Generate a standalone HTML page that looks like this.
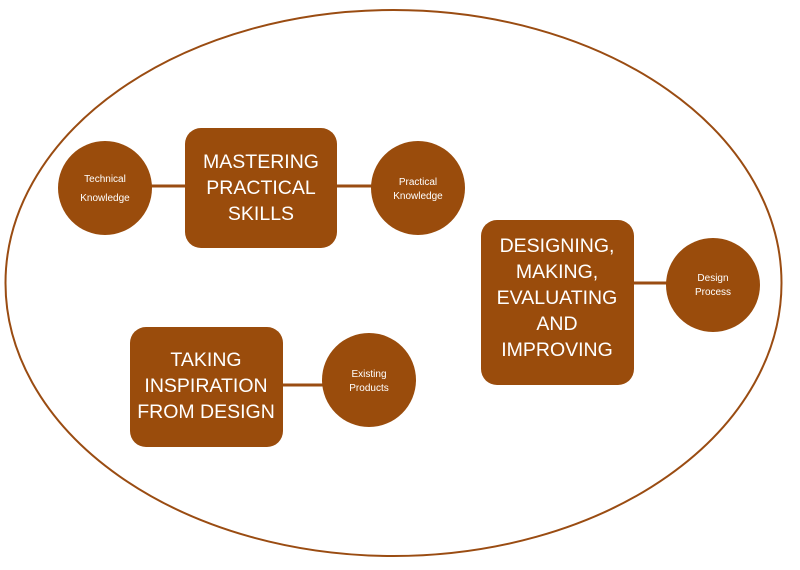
<!DOCTYPE html>
<html><head><meta charset="utf-8"><style>
html,body{margin:0;padding:0;background:#fff;}
svg{display:block;}
text{font-family:"Liberation Sans",sans-serif;fill:#fff;text-anchor:middle;}
.b{font-size:19.5px;}
.s{font-size:10px;}
</style></head><body>
<svg width="800" height="570" viewBox="0 0 800 570">
<ellipse cx="393.5" cy="283" rx="388" ry="273" fill="none" stroke="#9a4c12" stroke-width="2"/>
<g stroke="#9a4c12" stroke-width="3">
<line x1="150" y1="186" x2="187" y2="186"/>
<line x1="335" y1="186" x2="373" y2="186"/>
<line x1="632" y1="283" x2="668" y2="283"/>
<line x1="281" y1="385" x2="324" y2="385"/>
</g>
<g fill="#9a4c0c">
<circle cx="105" cy="188" r="47"/>
<rect x="185" y="128" width="152" height="120" rx="16"/>
<circle cx="418" cy="188" r="47"/>
<rect x="481" y="220" width="153" height="165" rx="16"/>
<circle cx="713" cy="285" r="47"/>
<rect x="130" y="327" width="153" height="120" rx="16"/>
<circle cx="369" cy="380" r="47"/>
</g>
<text class="s" x="105" y="182">Technical</text>
<text class="s" x="105" y="201">Knowledge</text>
<text class="b" x="261" y="168">MASTERING</text>
<text class="b" x="261" y="194">PRACTICAL</text>
<text class="b" x="261" y="220">SKILLS</text>
<text class="s" x="418" y="185">Practical</text>
<text class="s" x="418" y="199">Knowledge</text>
<text class="b" x="557" y="252">DESIGNING,</text>
<text class="b" x="557" y="278">MAKING,</text>
<text class="b" x="557" y="304">EVALUATING</text>
<text class="b" x="557" y="330">AND</text>
<text class="b" x="557" y="356">IMPROVING</text>
<text class="s" x="713" y="281">Design</text>
<text class="s" x="713" y="295">Process</text>
<text class="b" x="206" y="366">TAKING</text>
<text class="b" x="206" y="392">INSPIRATION</text>
<text class="b" x="206" y="418">FROM DESIGN</text>
<text class="s" x="369" y="377">Existing</text>
<text class="s" x="369" y="391">Products</text>
</svg>
</body></html>
